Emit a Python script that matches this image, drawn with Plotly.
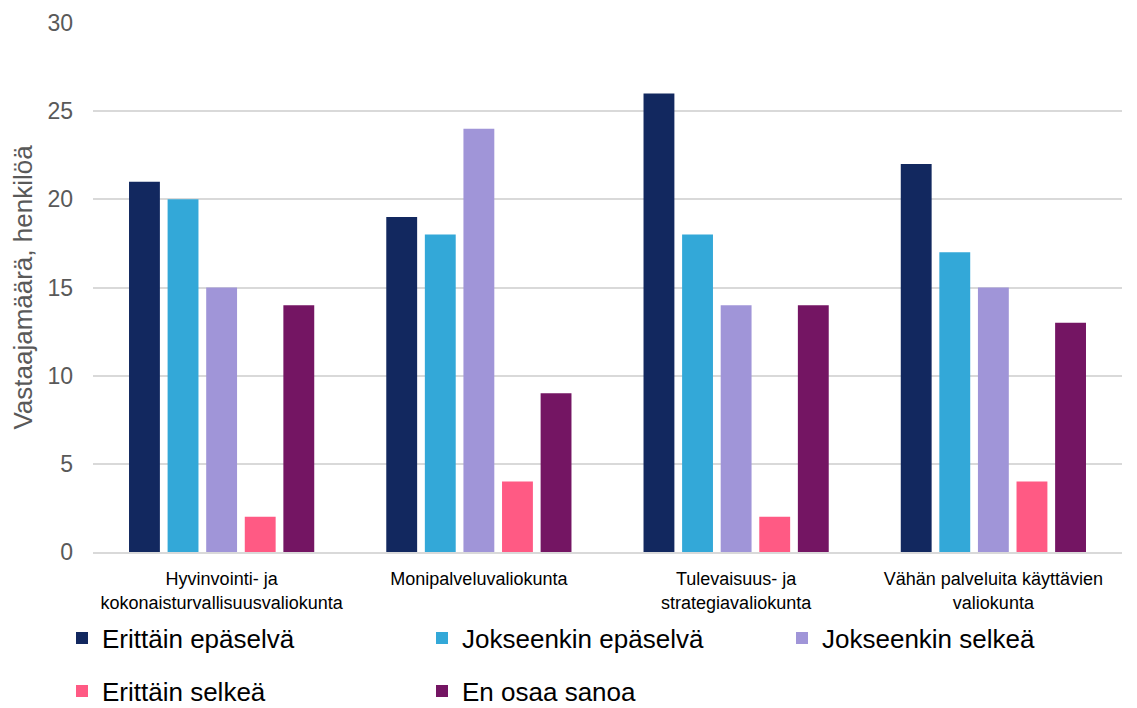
import plotly.graph_objects as go

categories = [
    "Hyvinvointi- ja<br>kokonaisturvallisuusvaliokunta",
    "Monipalveluvaliokunta",
    "Tulevaisuus- ja<br>strategiavaliokunta",
    "Vähän palveluita käyttävien<br>valiokunta",
]
series_names = ["Erittäin epäselvä", "Jokseenkin epäselvä", "Jokseenkin selkeä",
                "Erittäin selkeä", "En osaa sanoa"]
erittain_epaselva = [21, 19, 26, 22]
jokseenkin_epaselva = [20, 18, 18, 17]
jokseenkin_selkea = [15, 24, 14, 15]
erittain_selkea = [2, 4, 2, 4]
en_osaa_sanoa = [14, 9, 14, 13]
y_ticks = [0, 5, 10, 15, 20, 25, 30]

values = [erittain_epaselva, jokseenkin_epaselva, jokseenkin_selkea, erittain_selkea, en_osaa_sanoa]
colors = ["#12285F", "#33A8D8", "#A095D8", "#FF5A84", "#741563"]

# page body has an 8px margin; figure sized to fit the window
OFF = 8
W, H = 1137 - OFF, 708 - OFF
FONT = "Liberation Sans, Arial, sans-serif"

# legend item anchor positions in window pixels (left x, centre y)
leg_pos = [(62, 638), (422, 638), (782, 638), (62, 691), (422, 691)]

fig = go.Figure()
layout_legends = {}
for i, (name, vals, col) in enumerate(zip(series_names, values, colors)):
    lid = "legend" if i == 0 else f"legend{i + 1}"
    fig.add_trace(go.Bar(x=categories, y=vals, name=name, marker_color=col,
                         marker_line_width=0, legend=lid))
    px, py = leg_pos[i]
    layout_legends[lid] = dict(
        orientation="h", xanchor="left", yanchor="middle",
        xref="container", yref="container",
        x=(px - OFF) / W, y=1 - (py - OFF) / H,
        font=dict(family=FONT, size=26, color="#000000"),
        bgcolor="rgba(0,0,0,0)", borderwidth=0,
        itemclick=False, itemdoubleclick=False)

fig.update_layout(
    width=W, height=H,
    margin=dict(l=93 - OFF, r=15, t=23 - OFF, b=156, autoexpand=False),
    paper_bgcolor="white", plot_bgcolor="white",
    barmode="group", bargap=0.25, bargroupgap=0.2,
    font=dict(family=FONT),
    xaxis=dict(tickfont=dict(family=FONT, size=18, color="#000000"),
               showline=True, linecolor="#D9D9D9", linewidth=1.5, ticks="",
               ticklabelstandoff=10, automargin=False),
    yaxis=dict(range=[0, 30], tickvals=y_ticks, showgrid=True, gridcolor="#D9D9D9",
               gridwidth=1.5, zeroline=False, automargin=False,
               tickfont=dict(family=FONT, size=23, color="#595959"),
               ticklabelstandoff=19,
               title=dict(text="Vastaajamäärä, henkilöä",
                          font=dict(family=FONT, size=26, color="#595959"), standoff=8)),
    showlegend=True,
    **layout_legends,
)
fig.write_html("out.html")
